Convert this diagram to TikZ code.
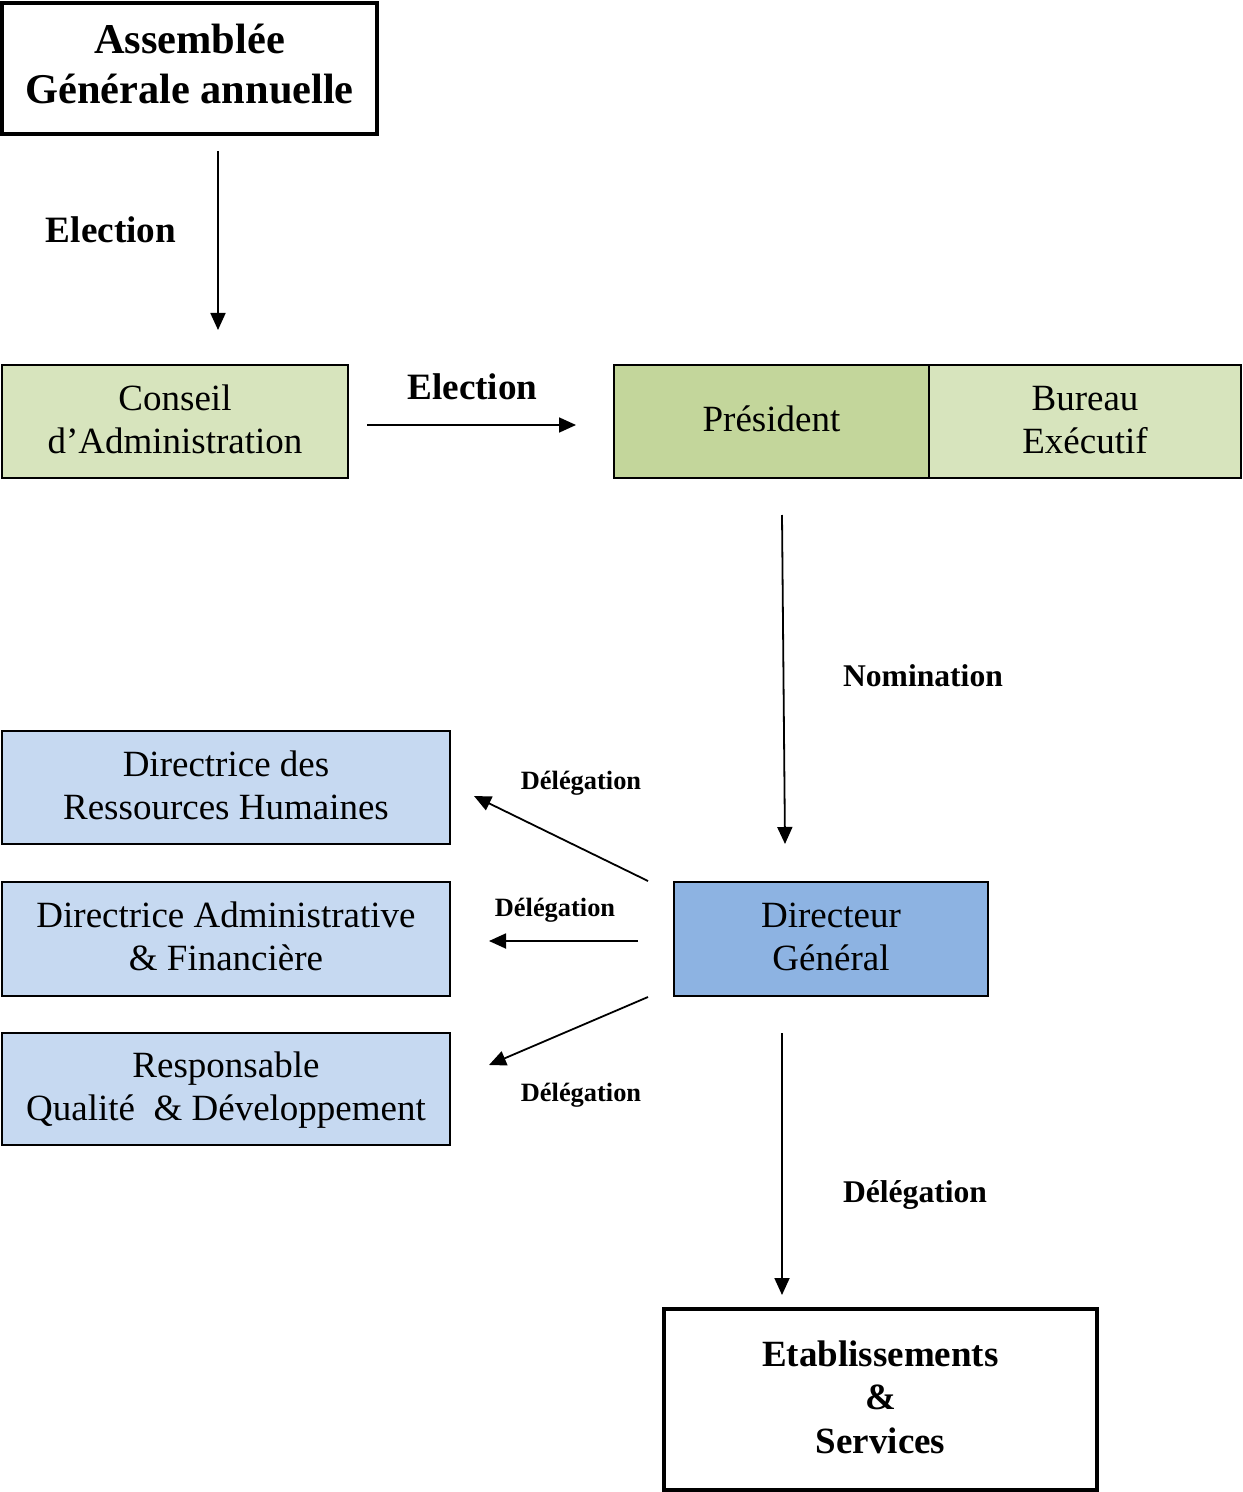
\documentclass[tikz,border=0pt]{standalone}
\usepackage{fontspec}
\setmainfont{Liberation Serif}
\usetikzlibrary{arrows.meta}
\definecolor{lgreen}{HTML}{D7E4BD}
\definecolor{mgreen}{HTML}{C3D69B}
\definecolor{lblue}{HTML}{C6D9F1}
\definecolor{mblue}{HTML}{8DB3E2}
\newcommand\mystr{\rule[-4pt]{0pt}{18pt}}
\newcommand\bigstr{\rule[-4.5pt]{0pt}{19.5pt}}
\tikzset{
  box/.style={draw=black, line width=1pt, inner sep=0pt, align=center,
    font=\fontsize{18.5}{21.5}\selectfont},
  boldbox/.style={draw=black, line width=1.75pt, inner sep=0pt, align=center,
    font=\fontsize{18.5}{21.75}\selectfont\bfseries},
  arr/.style={line width=0.9pt, -{Triangle[length=8.5pt,width=7.5pt]}},
  biglbl/.style={anchor=base, inner sep=0pt, font=\fontsize{18.6}{21}\selectfont\bfseries},
  midlbl/.style={anchor=base, inner sep=0pt, font=\fontsize{15.8}{18}\selectfont\bfseries},
  smalllbl/.style={anchor=base, inner sep=0pt, font=\fontsize{13.2}{15}\selectfont\bfseries},
}
\begin{document}
\begin{tikzpicture}[x=0.5pt,y=-0.5pt]
\useasboundingbox (0,0) rectangle (1242,1492);
% boxes
\node[boldbox, minimum width=187.5pt, minimum height=65.5pt,
  font=\fontsize{21.2}{25}\selectfont\bfseries] (ag) at (189.5,68.5)
  {\bigstr Assemblée\\\bigstr Générale annuelle};
\node[box, fill=lgreen, minimum width=173pt, minimum height=56.5pt] (ca) at (175,421.5)
  {\mystr Conseil\\\mystr d’Administration};
\node[box, fill=mgreen, minimum width=157.5pt, minimum height=56.5pt] (pr) at (771.5,421.5)
  {\mystr Président};
\node[box, fill=lgreen, minimum width=156pt, minimum height=56.5pt] (be) at (1085,421.5)
  {\mystr Bureau\\\mystr Exécutif};
\node[box, fill=lblue, minimum width=224pt, minimum height=56.5pt] (drh) at (226,787.5)
  {\mystr Directrice des\\\mystr Ressources Humaines};
\node[box, fill=lblue, minimum width=224pt, minimum height=57pt] (daf) at (226,939)
  {\mystr Directrice Administrative\\\mystr\& Financière};
\node[box, fill=lblue, minimum width=224pt, minimum height=56pt] (rqd) at (226,1089)
  {\mystr Responsable\\\mystr Qualité \ \& Développement};
\node[box, fill=mblue, minimum width=157pt, minimum height=57pt] (dg) at (831,939)
  {\mystr Directeur\\\mystr Général};
\node[boldbox, minimum width=216.5pt, minimum height=90.5pt] (et) at (880.5,1399.5)
  {\mystr Etablissements\\\mystr\&\\\mystr Services};
% labels
\node[biglbl] (l1) at (111,243) {Election};
\node[biglbl] (l2) at (472.5,400) {Election};
\node[midlbl] (l3) at (923,686) {Nomination};
\node[smalllbl] (l4) at (581,789) {Délégation};
\node[smalllbl] (l5) at (555,916) {Délégation};
\node[smalllbl] (l6) at (581,1101) {Délégation};
\node[midlbl] (l7) at (915,1202) {Délégation};
% connector end points
\coordinate (a1s) at (218,151);  \coordinate (a1e) at (218,330);
\coordinate (a2s) at (367,425);  \coordinate (a2e) at (576,425);
\coordinate (a3s) at (782,515);  \coordinate (a3e) at (785,844);
\coordinate (a4s) at (648,881);  \coordinate (a4e) at (474,796);
\coordinate (a5s) at (638,941);  \coordinate (a5e) at (489,941);
\coordinate (a6s) at (648,997);  \coordinate (a6e) at (489,1065);
\coordinate (a7s) at (782,1033); \coordinate (a7e) at (782,1295);
\draw[arr] (a1s) -- (a1e);
\draw[arr] (a2s) -- (a2e);
\draw[arr] (a3s) -- (a3e);
\draw[arr] (a4s) -- (a4e);
\draw[arr] (a5s) -- (a5e);
\draw[arr] (a6s) -- (a6e);
\draw[arr] (a7s) -- (a7e);
\end{tikzpicture}
\end{document}
